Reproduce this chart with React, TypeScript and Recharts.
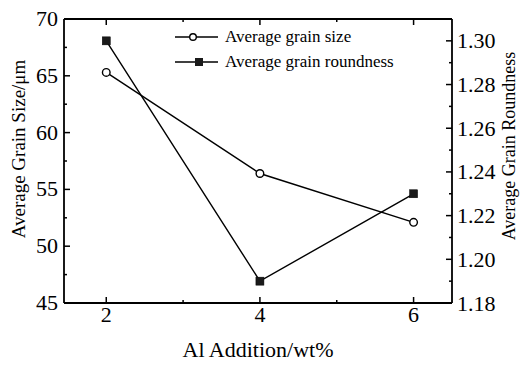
import React from 'react';
import { LineChart, Line, XAxis, YAxis, Legend, Label } from 'recharts';

const alAddition = [2, 4, 6];
const grainSize = [65.3, 56.4, 52.1];
const grainRoundness = [1.3, 1.19, 1.23];

const xTicks = [2, 3, 4, 5, 6];
const xLabeled = [2, 4, 6];
const leftTicks = [45, 47.5, 50, 52.5, 55, 57.5, 60, 62.5, 65, 67.5, 70];
const leftLabeled = [45, 50, 55, 60, 65, 70];
const rightTicks = [1.18, 1.19, 1.2, 1.21, 1.22, 1.23, 1.24, 1.25, 1.26, 1.27, 1.28, 1.29, 1.3];
const rightLabeled = ['1.18', '1.20', '1.22', '1.24', '1.26', '1.28', '1.30'];

const seriesNames = ['Average grain size', 'Average grain roundness'];

const data = alAddition.map((a, i) => ({ al: a, size: grainSize[i], round: grainRoundness[i] }));

const FONT = '"Liberation Serif", "Times New Roman", serif';
const TICK_FS = 22;
const MAJ = 6;
const MIN = 3;

const BottomTick = (p: any) => {
  const { x, y, payload } = p;
  const major = xLabeled.includes(payload.value);
  return (
    <g>
      <line x1={x} y1={y} x2={x} y2={y - (major ? MAJ : MIN)} stroke="#000" strokeWidth={1.5} />
      {major && (
        <text x={x} y={y + 19} textAnchor="middle" fontSize={TICK_FS} fontFamily={FONT} fill="#000">
          {payload.value}
        </text>
      )}
    </g>
  );
};

const TopTick = (p: any) => {
  const { x, y, payload } = p;
  const major = xLabeled.includes(payload.value);
  return <line x1={x} y1={y} x2={x} y2={y + (major ? MAJ : MIN)} stroke="#000" strokeWidth={1.5} />;
};

const LeftTick = (p: any) => {
  const { x, y, payload } = p;
  const major = leftLabeled.includes(payload.value);
  return (
    <g>
      <line x1={x} y1={y} x2={x + (major ? MAJ : MIN)} y2={y} stroke="#000" strokeWidth={1.5} />
      {major && (
        <text x={x - 6} y={y + 7} textAnchor="end" fontSize={TICK_FS} fontFamily={FONT} fill="#000">
          {payload.value}
        </text>
      )}
    </g>
  );
};

const RightTick = (p: any) => {
  const { x, y, payload } = p;
  const label = Number(payload.value).toFixed(2);
  const major = rightLabeled.includes(label);
  return (
    <g>
      <line x1={x} y1={y} x2={x - (major ? MAJ : MIN)} y2={y} stroke="#000" strokeWidth={1.5} />
      {major && (
        <text x={x + 5} y={y + 7.5} textAnchor="start" fontSize={TICK_FS} fontFamily={FONT} fill="#000">
          {label}
        </text>
      )}
    </g>
  );
};

const OpenDot = (p: any) => (
  <circle cx={p.cx} cy={p.cy} r={3.8} fill="#fff" stroke="#000" strokeWidth={1.4} />
);
const SquareDot = (p: any) => (
  <rect x={p.cx - 4} y={p.cy - 4} width={8} height={8} fill="#1a1a1a" stroke="#000" strokeWidth={0.5} />
);

const LegendContent = () => (
  <svg width={260} height={60} style={{ display: 'block', overflow: 'visible' }}>
    <line x1={0} y1={15} x2={43} y2={15} stroke="#000" strokeWidth={1.4} />
    <circle cx={18} cy={15} r={3.3} fill="#fff" stroke="#000" strokeWidth={1.4} />
    <text x={50} y={20} fontSize={17} fontFamily={FONT} fill="#000">{seriesNames[0]}</text>
    <line x1={0} y1={40} x2={43} y2={40} stroke="#000" strokeWidth={1.4} />
    <rect x={20} y={36} width={8} height={8} fill="#1a1a1a" />
    <text x={50} y={45} fontSize={17} fontFamily={FONT} fill="#000">{seriesNames[1]}</text>
  </svg>
);

export default function App() {
  return (
    <div style={{ position: 'absolute', left: 0, top: 0, width: 520, height: 365, background: '#fff' }}>
      <LineChart width={520} height={365} data={data} margin={{ top: 18, right: 0, bottom: 0, left: 0 }}>
        <XAxis
          xAxisId="bottom"
          dataKey="al"
          type="number"
          domain={[1.45, 6.5]}
          allowDataOverflow
          ticks={xTicks}
          interval={0}
          tickLine={false}
          tickSize={0}
          tickMargin={0}
          tick={BottomTick}
          axisLine={{ stroke: '#000', strokeWidth: 1.8 }}
          height={62}
        >
          <Label
            content={(props: any) => {
              const vb = props.viewBox;
              return (
                <text x={258} y={vb.y + 54} textAnchor="middle" fontSize={22} fontFamily={FONT} fill="#000">
                  Al Addition/wt%
                </text>
              );
            }}
          />
        </XAxis>
        <XAxis
          xAxisId="top"
          orientation="top"
          dataKey="al"
          type="number"
          domain={[1.45, 6.5]}
          allowDataOverflow
          ticks={xTicks}
          interval={0}
          tickLine={false}
          tickSize={0}
          tickMargin={0}
          tick={TopTick}
          axisLine={{ stroke: '#000', strokeWidth: 1.8 }}
          height={1}
        />
        <YAxis
          yAxisId="left"
          type="number"
          domain={[45, 70]}
          allowDataOverflow
          ticks={leftTicks}
          interval={0}
          tickLine={false}
          tickSize={0}
          tickMargin={0}
          tick={LeftTick}
          axisLine={{ stroke: '#000', strokeWidth: 1.8 }}
          width={64}
        >
          <Label
            content={() => {
              const cy = 149;
              return (
                <text x={25} y={cy} transform={`rotate(-90 25 ${cy})`} textAnchor="middle" fontSize={19} fontFamily={FONT} fill="#000">
                  Average Grain Size/μm
                </text>
              );
            }}
          />
        </YAxis>
        <YAxis
          yAxisId="right"
          orientation="right"
          type="number"
          domain={[1.18, 1.31]}
          allowDataOverflow
          ticks={rightTicks}
          interval={0}
          tickLine={false}
          tickSize={0}
          tickMargin={0}
          tick={RightTick}
          axisLine={{ stroke: '#000', strokeWidth: 1.8 }}
          width={68}
        >
          <Label
            content={() => {
              const cy = 146;
              return (
                <text x={515} y={cy} transform={`rotate(-90 515 ${cy})`} textAnchor="middle" fontSize={18} fontFamily={FONT} fill="#000">
                  Average Grain Roundness
                </text>
              );
            }}
          />
        </YAxis>
        <Legend
          layout="vertical"
          verticalAlign="middle"
          align="center"
          content={LegendContent}
          wrapperStyle={{ position: 'absolute', top: 22, left: 175, width: 260, height: 60, overflow: 'visible' }}
        />
        <Line
          xAxisId="bottom"
          yAxisId="left"
          dataKey="size"
          name={seriesNames[0]}
          stroke="#000"
          strokeWidth={1.4}
          dot={OpenDot}
          isAnimationActive={false}
        />
        <Line
          xAxisId="bottom"
          yAxisId="right"
          dataKey="round"
          name={seriesNames[1]}
          stroke="#000"
          strokeWidth={1.4}
          dot={SquareDot}
          isAnimationActive={false}
        />
      </LineChart>
    </div>
  );
}
